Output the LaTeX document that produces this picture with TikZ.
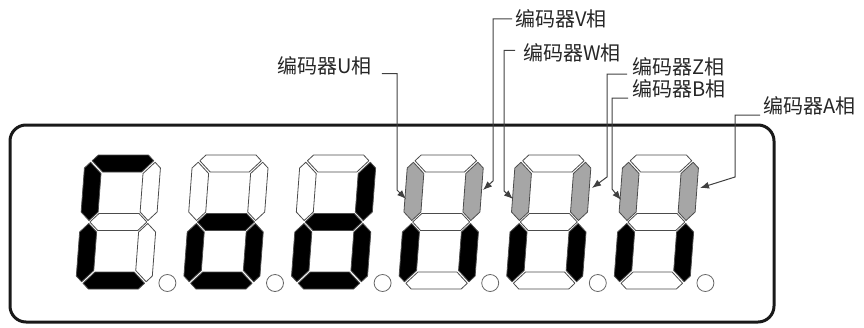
\documentclass[tikz,border=0pt]{standalone}
\usepackage{fontspec}
\usetikzlibrary{arrows.meta}
\newfontfamily\cjkfont{Noto Sans CJK SC}
\colorlet{segon}{black}
\colorlet{segoff}{white}
\colorlet{seghi}{black!35}
\tikzset{
  seg/.style={draw=black!70, line width=0.8pt, line join=round},
  dotseg/.style={draw=black!60, line width=0.8pt, fill=white},
  frame/.style={draw=black!90, line width=3pt, rounded corners=16pt},
  phase/.style={font=\cjkfont\fontsize{20}{24}\selectfont, inner sep=0pt, text=black!85},
  leader/.style={draw=black!75, line width=1pt, -{Latex[length=9pt,width=7pt]}},
}

\begin{document}
\begin{tikzpicture}[x=1pt,y=-1pt]
  \useasboundingbox (0,0) rectangle (864,327);
  \draw[frame] (10,125) rectangle (774,322);

  % digits: a b c d e f g
  \foreach \i/\sa/\sb/\sc/\sd/\se/\sf/\sg in {
      0/segon/segoff/segoff/segon/segon/segon/segoff,
      1/segoff/segoff/segon/segon/segon/segoff/segon,
      2/segoff/segon/segon/segon/segon/segoff/segon,
      3/segoff/seghi/segon/segoff/segon/seghi/segoff,
      4/segoff/seghi/segon/segoff/segon/seghi/segoff,
      5/segoff/seghi/segon/segoff/segon/seghi/segoff}{
    \begin{scope}[shift={(85.4+107.6*\i,155)}, xslant=0.075]
      \draw[seg, fill=\sa] (7.25,5.75) -- (13,0) -- (63,0) -- (68.75,5.75) -- (57.5,17) -- (18.5,17) -- cycle;
      \draw[seg, fill=\sb] (76,13) -- (70.25,7.25) -- (59,18.5) -- (59,57) -- (67.5,65.5) -- (76,57) -- cycle;
      \draw[seg, fill=\sc] (76,77) -- (67.5,68.5) -- (59,77) -- (59,115.5) -- (70.25,126.75) -- (76,121) -- cycle;
      \draw[seg, fill=\sd] (7.25,128.25) -- (13,134) -- (63,134) -- (68.75,128.25) -- (57.5,117) -- (18.5,117) -- cycle;
      \draw[seg, fill=\se] (0,77) -- (8.5,68.5) -- (17,77) -- (17,115.5) -- (5.75,126.75) -- (0,121) -- cycle;
      \draw[seg, fill=\sf] (0,13) -- (5.75,7.25) -- (17,18.5) -- (17,57) -- (8.5,65.5) -- (0,57) -- cycle;
      \draw[seg, fill=\sg] (9.5,67) -- (18,58.5) -- (58,58.5) -- (66.5,67) -- (58,75.5) -- (18,75.5) -- cycle;
    \end{scope}
    \draw[dotseg] (167.4+107.6*\i,283) circle (8.5);
  }

  \node[phase, anchor=base west] (lV) at (515,26.5) {编码器V相};
  \node[phase, anchor=base west] (lW) at (523,60.5) {编码器W相};
  \node[phase, anchor=base west] (lU) at (277,73.5) {编码器U相};
  \node[phase, anchor=base west] (lZ) at (632,74) {编码器Z相};
  \node[phase, anchor=base west] (lB) at (632,96) {编码器B相};
  \node[phase, anchor=base west] (lA) at (763,113.5) {编码器A相};

  \coordinate (kU) at (397,190); \coordinate (tU) at (406,199);
  \coordinate (kV) at (493,181); \coordinate (tV) at (483,190);
  \coordinate (kW) at (504,191); \coordinate (tW) at (513,199);
  \coordinate (kZ) at (607,177); \coordinate (tZ) at (592,188);
  \coordinate (kB) at (612,189); \coordinate (tB) at (621,200);
  \coordinate (kA) at (735,177); \coordinate (tA) at (700,188);

  \draw[leader] ([xshift=10pt]lU.base east) -| (kU) -- (tU);
  \draw[leader] ([xshift=-3pt]lV.west) -| (kV) -- (tV);
  \draw[leader] ([xshift=-8pt,yshift=2.5pt]lW.west) -| (kW) -- (tW);
  \draw[leader] ([xshift=-5pt]lZ.base west) -| (kZ) -- (tZ);
  \draw[leader] ([xshift=-4pt,yshift=-2pt]lB.base west) -| (kB) -- (tB);
  \draw[leader] ([xshift=-3pt,yshift=-1.5pt]lA.base west) -| (kA) -- (tA);
\end{tikzpicture}
\end{document}
